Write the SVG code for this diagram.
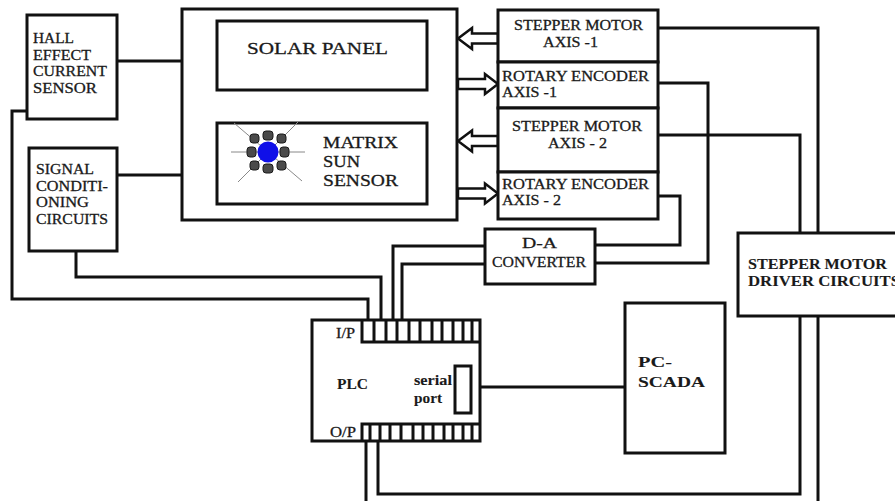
<svg xmlns="http://www.w3.org/2000/svg" width="895" height="501" viewBox="0 0 895 501">
<style>
.box{fill:#fff;stroke:#111;stroke-width:3}
.ln{fill:none;stroke:#111;stroke-width:3}
.arr{fill:#fff;stroke:#111;stroke-width:2.5;stroke-linejoin:miter}
.t{font-family:'Liberation Serif','DejaVu Serif','Times New Roman',serif;font-size:15px;fill:#1a1a1a;stroke:#1a1a1a;stroke-width:0.3}
.b{font-weight:bold;stroke-width:0.1}
.ray{stroke:#888;stroke-width:1}
.blob{fill:#4a4a4a;stroke:#1a1a1a;stroke-width:1}
</style>
<rect width="895" height="501" fill="#fff"/>
<g id="connectors">
<polyline class="ln" points="117,61 217,61"/>
<polyline class="ln" points="117,175 217,175"/>
<polyline class="ln" points="27,111 12,111 12,299 368,299 368,320"/>
<polyline class="ln" points="76,251 76,277 381,277 381,320"/>
<polyline class="ln" points="393,320 393,246 485,246"/>
<polyline class="ln" points="402,320 402,264 485,264"/>
<polyline class="ln" points="658,28 818,28 818,233"/>
<polyline class="ln" points="658,83 708,83 708,263 595,263"/>
<polyline class="ln" points="658,135 800,135 800,233"/>
<polyline class="ln" points="658,196 680,196 680,245 595,245"/>
<polyline class="ln" points="471,387 625,387"/>
<polyline class="ln" points="366,441 366,501"/>
<polyline class="ln" points="378,441 378,494 800,494 800,316"/>
<polyline class="ln" points="818,316 818,501"/>
<polygon class="arr" points="498,33.5 472,33.5 472,28 458,38.5 472,49 472,43.5 498,43.5"/>
<polygon class="arr" points="458,79 485,79 485,74 498,84 485,94 485,89 458,89"/>
<polygon class="arr" points="498,136 472,136 472,130.5 458,141 472,151.5 472,146 498,146"/>
<polygon class="arr" points="458,188.5 485,188.5 485,183.5 498,193.5 485,203.5 485,198.5 458,198.5"/>
</g>
<g id="hall">
<rect class="box" x="27" y="15" width="90" height="104"/>
<text class="t" x="33" y="43" textLength="41" lengthAdjust="spacingAndGlyphs">HALL</text>
<text class="t" x="33" y="60" textLength="58" lengthAdjust="spacingAndGlyphs">EFFECT</text>
<text class="t" x="33" y="76" textLength="74" lengthAdjust="spacingAndGlyphs">CURRENT</text>
<text class="t" x="33" y="93" textLength="64" lengthAdjust="spacingAndGlyphs">SENSOR</text>
</g>
<g id="signal">
<rect class="box" x="29" y="148" width="88" height="103"/>
<text class="t" x="36" y="174" textLength="58" lengthAdjust="spacingAndGlyphs">SIGNAL</text>
<text class="t" x="36" y="191" textLength="72" lengthAdjust="spacingAndGlyphs">CONDITI-</text>
<text class="t" x="36" y="207" textLength="53" lengthAdjust="spacingAndGlyphs">ONING</text>
<text class="t" x="36" y="224" textLength="72" lengthAdjust="spacingAndGlyphs">CIRCUITS</text>
</g>
<g id="panel-assembly">
<rect class="box" x="182" y="9" width="275" height="211"/>
</g>
<g id="solar">
<rect class="box" x="217" y="21" width="210" height="69"/>
<text class="t" x="247" y="54" style="font-size:17.5px" textLength="141" lengthAdjust="spacingAndGlyphs">SOLAR PANEL</text>
</g>
<g id="sun-sensor">
<rect class="box" x="217" y="123" width="210" height="81"/>
<g transform="translate(268,152)">
<line class="ray" x1="-37" y1="0" x2="37" y2="0"/>
<line class="ray" x1="-34" y1="-29" x2="34" y2="29"/>
<line class="ray" x1="-30" y1="30" x2="30" y2="-30"/>
<g class="blob">
<rect x="-5" y="-21" width="10" height="9" rx="3"/>
<rect x="-5" y="12" width="10" height="9" rx="3"/>
<rect x="-21" y="-5" width="9" height="10" rx="3"/>
<rect x="12" y="-5" width="9" height="10" rx="3"/>
<rect x="-18" y="-18" width="9" height="9" rx="3"/>
<rect x="9" y="-18" width="9" height="9" rx="3"/>
<rect x="-18" y="9" width="9" height="9" rx="3"/>
<rect x="9" y="9" width="9" height="9" rx="3"/>
</g>
<circle r="10.5" fill="#1010e8"/>
</g>
<text class="t" x="323" y="148" style="font-size:16.5px" textLength="75" lengthAdjust="spacingAndGlyphs">MATRIX</text>
<text class="t" x="323" y="167" style="font-size:16.5px" textLength="37" lengthAdjust="spacingAndGlyphs">SUN</text>
<text class="t" x="323" y="186" style="font-size:16.5px" textLength="75" lengthAdjust="spacingAndGlyphs">SENSOR</text>
</g>
<g id="stepper1">
<rect class="box" x="498" y="10" width="160" height="52"/>
<text class="t" x="514" y="30" textLength="129" lengthAdjust="spacingAndGlyphs">STEPPER MOTOR</text>
<text class="t" x="543" y="47" textLength="55" lengthAdjust="spacingAndGlyphs">AXIS -1</text>
</g>
<g id="encoder1">
<rect class="box" x="498" y="62" width="160" height="46"/>
<text class="t" x="502" y="81" textLength="147" lengthAdjust="spacingAndGlyphs">ROTARY ENCODER</text>
<text class="t" x="502" y="97" textLength="55" lengthAdjust="spacingAndGlyphs">AXIS -1</text>
</g>
<g id="stepper2">
<rect class="box" x="498" y="108" width="160" height="64"/>
<text class="t" x="512" y="131" textLength="130" lengthAdjust="spacingAndGlyphs">STEPPER MOTOR</text>
<text class="t" x="548" y="148" textLength="59" lengthAdjust="spacingAndGlyphs">AXIS - 2</text>
</g>
<g id="encoder2">
<rect class="box" x="498" y="172" width="160" height="47"/>
<text class="t" x="502" y="189" textLength="147" lengthAdjust="spacingAndGlyphs">ROTARY ENCODER</text>
<text class="t" x="502" y="205" textLength="59" lengthAdjust="spacingAndGlyphs">AXIS - 2</text>
</g>
<g id="da-converter">
<rect class="box" x="485" y="229" width="110" height="55"/>
<text class="t" x="522" y="248" textLength="35" lengthAdjust="spacingAndGlyphs">D-A</text>
<text class="t" x="492" y="267" textLength="94" lengthAdjust="spacingAndGlyphs">CONVERTER</text>
</g>
<g id="driver">
<rect class="box" x="738" y="233" width="170" height="83"/>
<text class="t b" x="748" y="269" textLength="139" lengthAdjust="spacingAndGlyphs">STEPPER MOTOR</text>
<text class="t b" x="748" y="286" textLength="152" lengthAdjust="spacingAndGlyphs">DRIVER CIRCUITS</text>
</g>
<g id="plc">
<rect class="box" x="312" y="320" width="168" height="121"/>
<path class="ln" d="M362,320 V342 H480 M374,320 V342 M386,320 V342 M397,320 V342 M409,320 V342 M420,320 V342 M432,320 V342 M442,320 V342 M453,320 V342 M463,320 V342 M472,320 V342"/>
<path class="ln" d="M362,441 V424 H480 M370,424 V441 M380,424 V441 M390,424 V441 M401,424 V441 M413,424 V441 M423,424 V441 M433,424 V441 M444,424 V441 M453,424 V441 M463,424 V441 M472,424 V441"/>
<rect class="box" x="455" y="366" width="16" height="47"/>
<text class="t" x="336" y="338" textLength="19" lengthAdjust="spacingAndGlyphs">I/P</text>
<text class="t" x="330" y="437" textLength="26" lengthAdjust="spacingAndGlyphs">O/P</text>
<text class="t b" x="337" y="389" textLength="31" lengthAdjust="spacingAndGlyphs">PLC</text>
<text class="t b" x="414" y="385" textLength="38" lengthAdjust="spacingAndGlyphs">serial</text>
<text class="t b" x="414" y="403" textLength="28" lengthAdjust="spacingAndGlyphs">port</text>
</g>
<g id="pc-scada">
<rect class="box" x="625" y="303" width="100" height="150"/>
<text class="t b" x="638" y="367" textLength="34" lengthAdjust="spacingAndGlyphs">PC-</text>
<text class="t b" x="638" y="387" textLength="67" lengthAdjust="spacingAndGlyphs">SCADA</text>
</g>
</svg>
